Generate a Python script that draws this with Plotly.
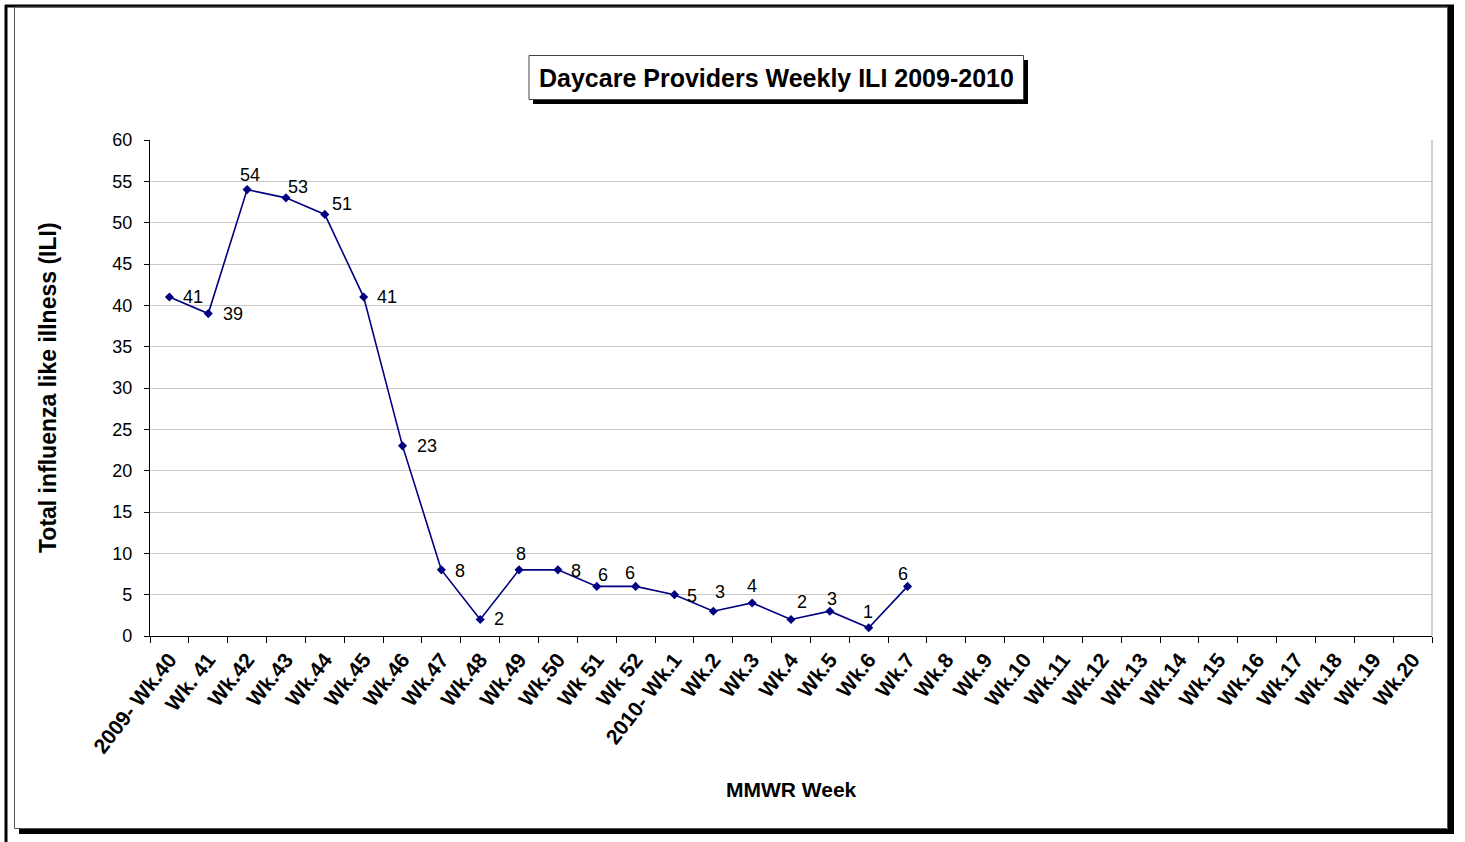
import plotly.graph_objects as go

categories = ["2009- Wk.40", "Wk. 41", "Wk.42", "Wk.43", "Wk.44", "Wk.45", "Wk.46", "Wk.47",
              "Wk.48", "Wk.49", "Wk.50", "Wk 51", "Wk 52", "2010- Wk.1", "Wk.2", "Wk.3", "Wk.4",
              "Wk.5", "Wk.6", "Wk.7", "Wk.8", "Wk.9", "Wk.10", "Wk.11", "Wk.12", "Wk.13", "Wk.14",
              "Wk.15", "Wk.16", "Wk.17", "Wk.18", "Wk.19", "Wk.20"]
ili_values = [41, 39, 54, 53, 51, 41, 23, 8, 2, 8, 8, 6, 6, 5, 3, 4, 2, 3, 1, 6]
y_ticks = [0, 5, 10, 15, 20, 25, 30, 35, 40, 45, 50, 55, 60]

# label offsets in pixels (style only)
label_dx = [24, 25, 3, 12, 17, 23, 24, 19, 19, 2, 18, 6, -6, 18, 7, 0, 11, 2, -1, -5]
label_dy = [0, 0, -15, -11, -10, 0, 0, 1, 0, -16, 1, -11, -13, 1, -19, -17, -17, -12, -16, -12]

W, H = 1465, 842
L, R, T, B = 150, 1432, 140, 636
FONT = "Liberation Sans, Arial"

def px(x):
    return (x - L) / (R - L)

def py(y):
    return (B - y) / (B - T)

fig = go.Figure()
fig.add_trace(go.Scatter(
    x=categories[:len(ili_values)], y=ili_values, mode="lines+markers",
    line=dict(color="#000080", width=1.6),
    marker=dict(symbol="diamond", size=7, color="#000080"),
    hoverinfo="x+y", showlegend=False,
))

for i, v in enumerate(ili_values):
    fig.add_annotation(x=categories[i], y=v, text=str(v), showarrow=False,
                       xshift=label_dx[i], yshift=-label_dy[i],
                       font=dict(family=FONT, size=18, color="#000000"))

shapes = []
# outer frame
shapes.append(dict(type="line", xref="paper", yref="paper", x0=px(6), x1=px(6), y0=py(5), y1=py(842),
                   line=dict(color="black", width=3)))
shapes.append(dict(type="line", xref="paper", yref="paper", x0=px(5), x1=px(1454), y0=py(6), y1=py(6),
                   line=dict(color="black", width=3)))
shapes.append(dict(type="rect", xref="paper", yref="paper", x0=px(1448), x1=px(1454), y0=py(7), y1=py(834),
                   fillcolor="black", line=dict(width=0)))
shapes.append(dict(type="rect", xref="paper", yref="paper", x0=px(19), x1=px(1454), y0=py(829), y1=py(834),
                   fillcolor="black", line=dict(width=0)))
shapes.append(dict(type="rect", xref="paper", yref="paper", x0=px(14.5), x1=px(1447.5), y0=py(7), y1=py(828.5),
                   line=dict(color="#555555", width=1)))
# plot area right border
shapes.append(dict(type="line", xref="paper", yref="paper", x0=1, x1=1, y0=0, y1=1,
                   line=dict(color="#c0c0c0", width=1.5)))
# title box with shadow
shapes.append(dict(type="rect", xref="paper", yref="paper", x0=px(533), x1=px(1028), y0=py(60), y1=py(104),
                   fillcolor="black", line=dict(width=0)))
shapes.append(dict(type="rect", xref="paper", yref="paper", x0=px(529), x1=px(1023.5), y0=py(55.5), y1=py(99.5),
                   fillcolor="white", line=dict(color="#444444", width=1)))

fig.add_annotation(xref="paper", yref="paper", x=px(776), y=py(78), text="<b>Daycare Providers Weekly ILI 2009-2010</b>",
                   showarrow=False, xanchor="center", yanchor="middle",
                   font=dict(family=FONT, size=25, color="black"))
# axis titles
fig.add_annotation(xref="paper", yref="paper", x=px(791), y=py(789), text="<b>MMWR Week</b>",
                   showarrow=False, xanchor="center", yanchor="middle",
                   font=dict(family=FONT, size=21, color="black"))
fig.add_annotation(xref="paper", yref="paper", x=px(48), y=py(388), text="<b>Total influenza like illness (ILI)</b>",
                   showarrow=False, xanchor="center", yanchor="middle", textangle=-90,
                   font=dict(family=FONT, size=23, color="black"))

fig.update_layout(
    width=W, height=H,
    margin=dict(l=L, r=W - R, t=T, b=H - B),
    paper_bgcolor="white", plot_bgcolor="white",
    shapes=shapes,
    font=dict(family=FONT, color="black"),
    xaxis=dict(
        type="category", categoryorder="array", categoryarray=categories,
        range=[-0.5, len(categories) - 0.5],
        tickson="boundaries", ticks="outside", ticklen=6, tickcolor="black", tickwidth=1,
        showgrid=False, showline=True, linecolor="black", linewidth=1.2,
        tickangle=-52, tickfont=dict(size=21, family=FONT, color="black", weight="bold"),
        ticklabelstandoff=2,
        automargin=False, zeroline=False,
    ),
    yaxis=dict(
        range=[0, 60], tickvals=y_ticks, ticks="outside", ticklen=5, tickcolor="black",
        showgrid=True, gridcolor="#c8c8c8", gridwidth=1,
        showline=True, linecolor="black", linewidth=1.2, zeroline=False,
        tickfont=dict(size=18, color="black"), ticklabelstandoff=8,
        automargin=False,
    ),
)

fig.write_html("out.html", config={"displayModeBar": False},
               post_script="document.body.style.margin='0px';")
